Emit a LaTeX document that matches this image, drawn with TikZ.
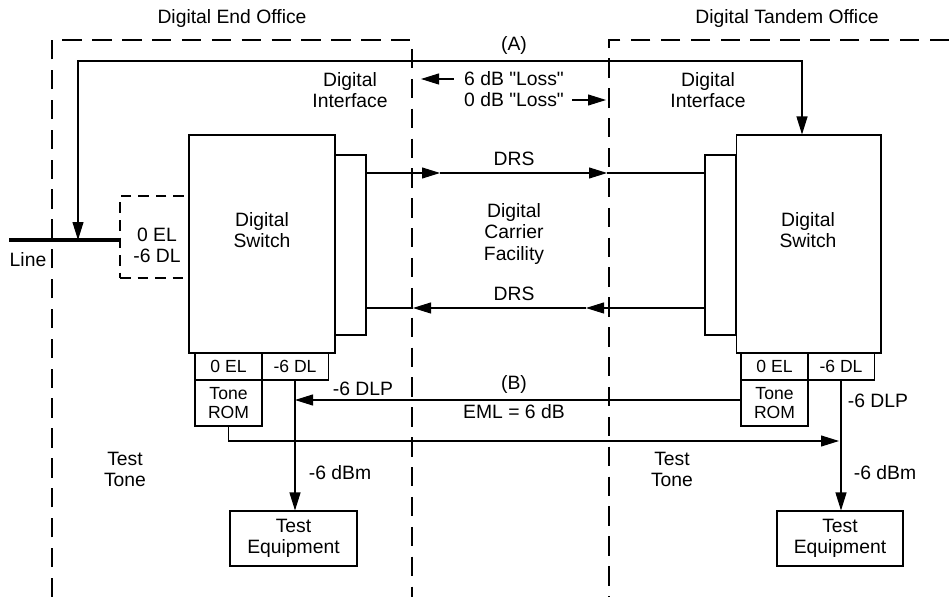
\documentclass[tikz,border=0pt]{standalone}
\usepackage{fontspec}
\setmainfont{Liberation Sans}[Ligatures=TeXOff]
\usetikzlibrary{arrows.meta}

\begin{document}
\begin{tikzpicture}[x=0.02cm,y=-0.02cm,line width=0.6pt,
	font=\fontsize{11}{12}\selectfont,
	>={Triangle[length=3.6mm,width=2.2mm]},
	txt/.style={align=center,inner sep=0pt},
	box/.style={draw,inner sep=0pt},
	cell/.style={box,align=center,minimum width=1.34cm,minimum height=0.54cm,font=\fontsize{10}{10.8}\selectfont},
	office/.style={dash pattern=on 11pt off 6pt}]
	\useasboundingbox (0,0) rectangle (949,597);

	% the two offices
	\draw[office] (52,597) |- (412,40) -- (412,597);
	\draw[office] (949,40) -| (609,597);
	\node[txt] (eo) at (232,19) {Digital End Office};
	\node[txt] (tdo) at (787,19) {Digital Tandem Office};

	% end office side
	\node[box,dash pattern=on 6pt off 4pt,minimum width=1.4cm,minimum height=1.64cm] (lpad) at (155,237) {};
	\node[txt] (lpadt) at (157,245) {0 EL\\-6 DL};
	\node[box,minimum width=0.62cm,minimum height=3.6cm] (lif) at (350.5,245) {};
	\node[box,fill=white,minimum width=2.92cm,minimum height=4.36cm] (lsw) at (262,244) {};
	\node[txt] (lswt) at (262,230) {Digital\\Switch};
	\node[cell] (lel) at (228.5,366.5) {0 EL};
	\node[cell] (ldl) at (295,366.5) {-6 DL};
	\node[cell,minimum height=0.92cm] (lrom) at (228.5,403) {Tone\\ROM};
	\node[box,minimum width=2.54cm,minimum height=1.1cm,align=center] (lte) at (293.5,538.5) {Test\\Equipment};
	\node[txt] (lift) at (350,90) {Digital\\Interface};
	\node[txt] (line) at (28,260) {Line};
	\node[txt] (ltone) at (125,469) {Test\\Tone};
	\node[txt] (ldlp) at (363,389) {-6 DLP};
	\node[txt] (ldbm) at (340,473) {-6 dBm};

	% tandem office side
	\node[box,minimum width=0.62cm,minimum height=3.6cm] (rif) at (720.5,245) {};
	\node[box,fill=white,minimum width=2.9cm,minimum height=4.36cm] (rsw) at (808.5,244) {};
	\node[txt] (rswt) at (808,230) {Digital\\Switch};
	\node[cell] (rel) at (774.5,366.5) {0 EL};
	\node[cell] (rdl) at (841,366.5) {-6 DL};
	\node[cell,minimum height=0.92cm] (rrom) at (774.5,403) {Tone\\ROM};
	\node[box,minimum width=2.52cm,minimum height=1.1cm,align=center] (rte) at (840,538.5) {Test\\Equipment};
	\node[txt] (rift) at (708,90) {Digital\\Interface};
	\node[txt] (rtone) at (672,469) {Test\\Tone};
	\node[txt] (rdlp) at (878,401) {-6 DLP};
	\node[txt] (rdbm) at (885,473) {-6 dBm};

	% carrier facility
	\node[txt] (pa) at (514,46) {(A)};
	\node[txt,inner xsep=0.2cm] (loss6) at (514,79) {6 dB "Loss"};
	\node[txt,inner xsep=0.16cm] (loss0) at (514,100) {0 dB "Loss"};
	\node[txt] (drs1) at (514,159) {DRS};
	\node[txt] (dcf) at (514,234) {Digital\\Carrier\\Facility};
	\node[txt] (drs2) at (514,294) {DRS};
	\node[txt] (pb) at (514,384) {(B)};
	\node[txt] (eml) at (514,412) {EML = 6 dB};

	\coordinate (lend) at (9,240);
	\coordinate (ltap) at (78,240);
	\coordinate (arow) at (514,61);
	\coordinate (lossl) at (421,79);
	\coordinate (lossr) at (606,100);
	\coordinate (drsa) at (440,173);
	\coordinate (drsb) at (607,173);
	\coordinate (drsc) at (586,308);
	\coordinate (drsd) at (413,308);
	\coordinate (ttone) at (839,441);

	\draw[line width=2.3pt] (lend) -- (lend -| lpad.west);
	\draw[<->] (ltap) |- (arow) -| ([xshift=-0.13cm]rsw.north);
	\draw[->] (loss6.west) -- (lossl);
	\draw[->] (loss0.east) -- (lossr);
	\draw[->] (lif.east |- drsa) -- (drsa);
	\draw[->] (drsa) -- (drsb);
	\draw (drsb) -- (rif.west |- drsb);
	\draw[->] (rif.west |- drsc) -- (drsc);
	\draw[->] (drsc) -- (drsd);
	\draw (drsd) -- (lif.east |- drsd);
	\draw[->] ([yshift=0.06cm]rrom.west) -- ([yshift=0.06cm]rrom.west -| ldl.south);
	\draw[->] (lrom.south) |- (ttone);
	\draw[->] (ldl.south) -- (ldl.south |- lte.north);
	\draw[->] (rdl.south) -- (rdl.south |- rte.north);
\end{tikzpicture}
\end{document}
